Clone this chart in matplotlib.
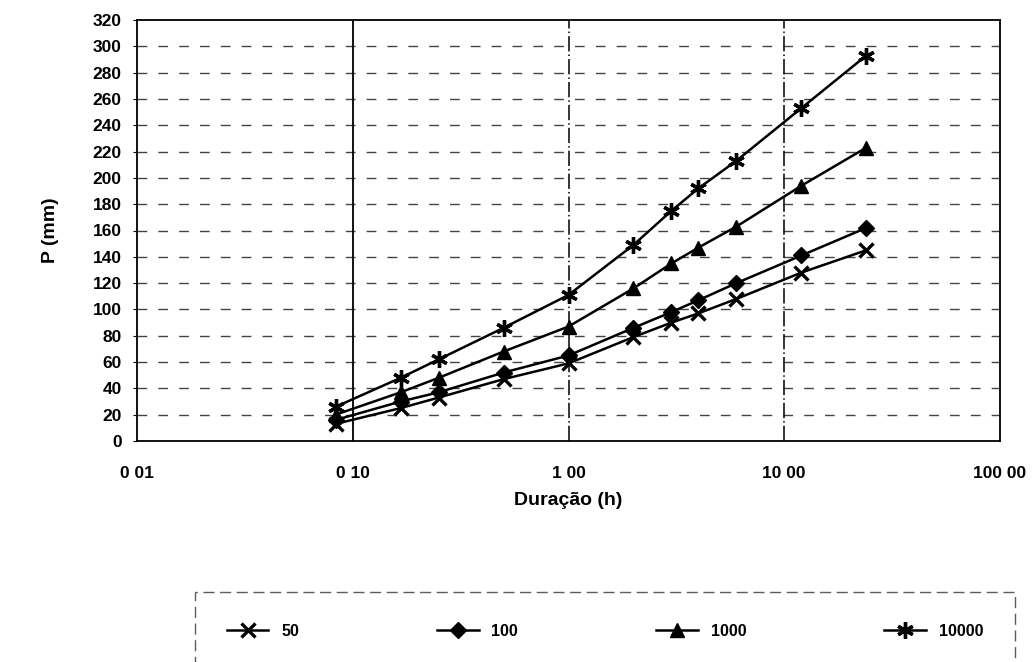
import matplotlib
matplotlib.use("Agg")
import matplotlib.pyplot as plt

plt.rcParams["font.family"] = ["Liberation Sans", "DejaVu Sans"]

# duracoes em horas (5, 10, 15, 30 min, 1 ... 24 h)
duracao = [5 / 60, 10 / 60, 15 / 60, 0.5, 1, 2, 3, 4, 6, 12, 24]

# precipitacao (mm) por periodo de retorno
p_50 = [13, 25, 33, 47, 59, 79, 90, 97, 108, 128, 145]
p_100 = [16, 30, 37, 52, 65, 86, 98, 107, 120, 141, 162]
p_1000 = [20, 37, 48, 68, 87, 116, 135, 147, 163, 194, 223]
p_10000 = [26, 48, 62, 86, 111, 149, 175, 192, 213, 253, 293]

series_labels = ["50", "100", "1000", "10000"]
x_ticks = [0.01, 0.1, 1, 10, 100]
x_tick_labels = ["0 01", "0 10", "1 00", "10 00", "100 00"]
y_ticks = list(range(0, 321, 20))

fig = plt.figure(figsize=(10.34, 6.62), dpi=100)
ax = fig.add_axes([137 / 1034, 1 - 441 / 662, 863 / 1034, 421 / 662])

# horizontal dashed grid
for yv in y_ticks[1:-1]:
    ax.axhline(yv, color="#444444", lw=1, linestyle=(0, (7, 8)), zorder=1)

# vertical grid lines at decades
ax.axvline(0.1, color="black", lw=1.3, zorder=1)
ax.axvline(1, color="black", lw=1.1, linestyle=(0, (10, 2, 1, 2)), zorder=1)
ax.axvline(10, color="black", lw=1.1, linestyle=(0, (10, 2, 1, 2)), zorder=1)

kw = dict(color="black", lw=1.8, zorder=3)
ax.plot(duracao, p_50, marker="x", ms=10, mew=2.4, label=series_labels[0], **kw)
ax.plot(duracao, p_100, marker="D", ms=8, label=series_labels[1], **kw)
ax.plot(duracao, p_1000, marker="^", ms=10, label=series_labels[2], **kw)
ax.plot(duracao, p_10000, marker=(6, 2, 0), ms=12, mew=2.4, label=series_labels[3], **kw)

ax.set_xscale("log")
ax.set_xlim(0.01, 100)
ax.set_ylim(0, 320)
ax.set_xticks(x_ticks)
ax.set_xticklabels(x_tick_labels)
ax.set_yticks(y_ticks)
ax.minorticks_off()
ax.tick_params(axis="x", length=0, pad=18, labelsize=12.5)
ax.tick_params(axis="y", length=3, direction="out", pad=8, labelsize=12.5)
for lab in ax.get_xticklabels() + ax.get_yticklabels():
    lab.set_fontweight("bold")

for s in ax.spines.values():
    s.set_linewidth(1.3)

ax.set_ylabel("P (mm)", fontsize=14, fontweight="bold", labelpad=24)
ax.set_xlabel("Duração (h)", fontsize=14, fontweight="bold", labelpad=8)

leg = fig.legend(
    loc="upper left",
    bbox_to_anchor=(195 / 1034, 0.0, 820 / 1034, 1 - 592 / 662),
    mode="expand",
    ncol=4,
    frameon=True,
    fancybox=False,
    borderaxespad=0,
    borderpad=2.0,
    handlelength=2.6,
    prop={"size": 11.5, "weight": "bold"},
)
frame = leg.get_frame()
frame.set_edgecolor("#333333")
frame.set_linestyle((0, (8, 4)))
frame.set_linewidth(1.0)

fig.savefig("out.png", dpi=100)
